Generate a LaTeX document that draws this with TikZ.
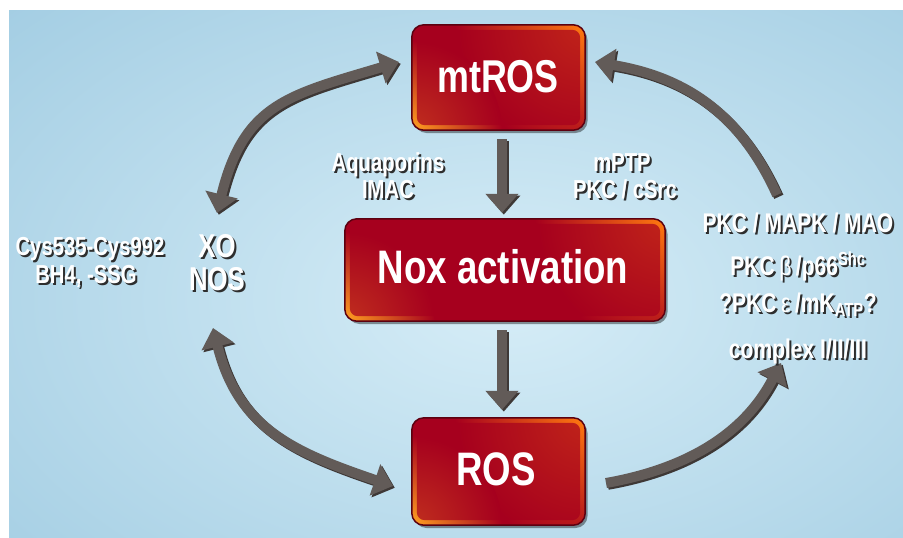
\documentclass[tikz,border=0pt]{standalone}
\usepackage{fontspec}
\setmainfont{Liberation Sans}[FakeStretch=0.78]
\usetikzlibrary{arrows.meta}
\definecolor{bgout}{HTML}{94C4DD}
\definecolor{bgin}{HTML}{D6EDF7}
\definecolor{boxred}{HTML}{A6001E}
\definecolor{boxedge}{HTML}{5C0010}
\definecolor{glowA}{HTML}{FF7A10}
\definecolor{glowB}{HTML}{FFA020}
\definecolor{agray}{HTML}{625B58}
\definecolor{ashadow}{HTML}{3E3836}
\definecolor{txtsh}{HTML}{2E2E2E}
\newcommand\sht[1]{\leavevmode\rlap{\kern2pt\raisebox{-2pt}{\textcolor{txtsh}{#1}}}#1}
\tikzset{
  redbox/.style={rectangle, rounded corners=12pt, fill=boxred, inner sep=0pt},
  boxtext/.style={text=white, inner sep=0pt, anchor=base},
  side/.style={text=white, font=\bfseries\fontsize{26}{28}\selectfont, inner sep=0pt, anchor=base},
  rside/.style={side, font=\bfseries\fontsize{27}{28}\selectfont},
  big/.style={side, font=\bfseries\fontsize{33}{33}\selectfont},
  garrow/.style={draw=agray, line width=10pt},
  gshadow/.style={draw=ashadow, line width=10pt, transform canvas={shift={(1.8pt,-1.8pt)}}},
  tipA/.tip={Triangle[length=19pt,width=32pt]}
}
\newcommand\rbox[5]{%
  \fill[black, opacity=.4, rounded corners=12pt] (#2-#4/2+2.5,#3-#5/2+3) rectangle (#2+#4/2+2.5,#3+#5/2+3);
  \node[redbox, minimum width=#4pt, minimum height=#5pt] (#1) at (#2,#3) {};
  \begin{scope}
    \clip[rounded corners=12pt] (#1.south west) rectangle (#1.north east);
    \shade[inner color=glowA, outer color=boxred] (#1.north east) circle (130pt);
    \shade[inner color=glowB, outer color=boxred] (#1.south west) circle (90pt);
    \fill[boxred, opacity=.7, rounded corners=8pt] ([shift={(5pt,5pt)}]#1.south west) rectangle ([shift={(-5pt,-5pt)}]#1.north east);
  \end{scope}
  \draw[boxedge, line width=1.5pt, rounded corners=12pt] (#1.south west) rectangle (#1.north east);
}
\newcommand\garr[2]{\draw[gshadow,#1] #2; \draw[garrow,#1] #2;}
\begin{document}
\begin{tikzpicture}[x=1pt,y=-1pt]
\useasboundingbox (0,0) rectangle (903,538);
\fill[white] (0,0) rectangle (903,538);
\begin{scope}
  \clip (9,10) rectangle (903,538);
  \fill[bgout] (9,10) rectangle (903,538);
  \shade[inner color=bgin, outer color=bgout] (505,300) ellipse (900pt and 560pt);
\end{scope}

% boxes
\rbox{mtbox}{498.5}{77.5}{173}{105}
\rbox{noxbox}{505}{270}{320}{102}
\rbox{rosbox}{498.5}{471.5}{173}{107}

% connector end points
\coordinate (xoTop) at (217,213);
\coordinate (mtL) at (399,62);
\coordinate (nosBot) at (213,328);
\coordinate (rosL) at (393,486);
\coordinate (rosR) at (606,483);
\coordinate (rgtLow) at (781,363);
\coordinate (rgtHigh) at (777,195);
\coordinate (mtR) at (595,62);

% arrows
\garr{-tipA}{([xshift=3.5pt,yshift=-9pt]mtbox.south) -- ([xshift=-3pt,yshift=6pt]noxbox.north)}
\garr{-tipA}{([xshift=-3pt,yshift=-9pt]noxbox.south) -- ([xshift=3.5pt,yshift=8pt]rosbox.north)}
\garr{tipA-tipA}{(xoTop) .. controls (244,103) and (289,95) .. (mtL)}
\garr{tipA-tipA}{(nosBot) .. controls (238,428) and (293,452) .. (rosL)}
\garr{-tipA}{(rosR) .. controls (680,470) and (742,438) .. (rgtLow)}
\garr{-tipA}{(rgtHigh) .. controls (740,113) and (685,77) .. (mtR)}

% box labels
\node[boxtext, font=\bfseries\fontsize{46}{46}\selectfont] (mtlabel) at (498,92) {mtROS};
\node[boxtext, font=\bfseries\fontsize{47}{47}\selectfont] (noxlabel) at (503,283) {Nox activation};
\node[boxtext, font=\bfseries\fontsize{47}{47}\selectfont] (roslabel) at (496,485) {ROS};

% side texts
\node[side] (aq1) at (388,171) {\sht{Aquaporins}};
\node[side] (aq2) at (388,198) {\sht{IMAC}};
\node[side] (mp1) at (622,171) {\sht{mPTP}};
\node[side] (mp2) at (625,198) {\sht{PKC / cSrc}};
\node[side] (cy1) at (90,255) {\sht{Cys535-Cys992}};
\node[side] (cy2) at (86,283) {\sht{BH4, -SSG}};
\node[big] (xo) at (217,257) {\sht{XO}};
\node[big] (nos) at (217,290) {\sht{NOS}};
\node[rside] (r1) at (798,232) {\sht{PKC / MAPK / MAO}};
\node[rside] (r2) at (798,275) {\sht{PKC\,{\mdseries β}\,/p66\textsuperscript{Shc}}};
\node[rside] (r3) at (798,312) {\sht{?PKC\,{\mdseries ε}\,/mK\textsubscript{ATP}?}};
\node[rside] (r4) at (798,358) {\sht{complex I/II/III}};
\end{tikzpicture}
\end{document}
